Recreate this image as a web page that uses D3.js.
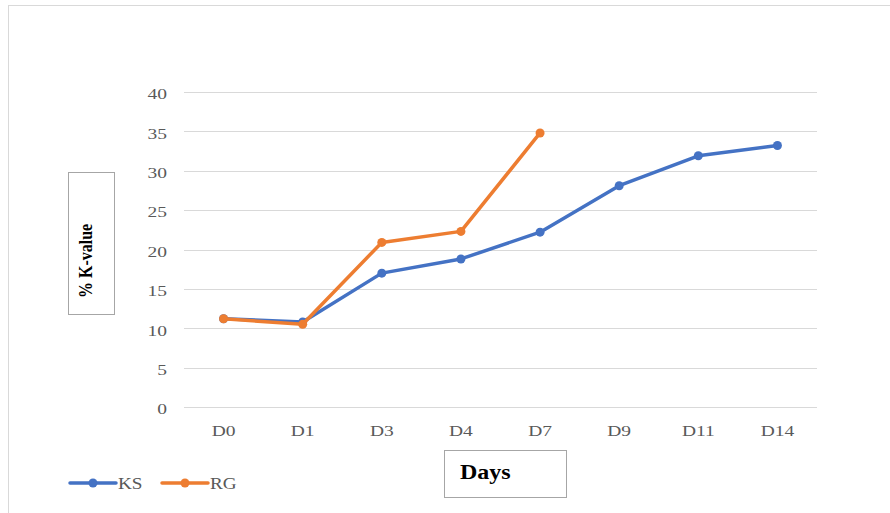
<!DOCTYPE html>
<html>
<head>
<meta charset="utf-8">
<script src="https://cdn.jsdelivr.net/npm/d3@7/dist/d3.min.js"></script>
<style>
  html, body { margin: 0; padding: 0; background: #fff; }
  svg { display: block; }
</style>
</head>
<body>
<svg id="chart" width="890" height="513"></svg>
<script>
// Days of measurement
const categories = ["D0", "D1", "D3", "D4", "D7", "D9", "D11", "D14"];
// % K-value per sample
const ksValues = [11.2, 10.8, 17.0, 18.8, 22.2, 28.1, 31.9, 33.2];
const rgValues = [11.2, 10.5, 20.9, 22.3, 34.8];
const yTicks = [0, 5, 10, 15, 20, 25, 30, 35, 40];
const seriesNames = ["KS", "RG"];
const seriesColors = ["#4472C4", "#ED7D31"];

const svg = d3.select("#chart");
const W = 890, H = 513;
const plot = { left: 184, right: 817, top: 92, bottom: 407 };
const wide = 1.3; // horizontal widening of the serif labels

// outer frame (continues past the right and bottom edges)
svg.append("rect")
  .attr("x", 8.5).attr("y", 5.5)
  .attr("width", W + 10).attr("height", H + 10)
  .attr("fill", "#fff").attr("stroke", "#d9d9d9").attr("stroke-width", 1);

const x = d3.scaleBand().domain(categories).range([plot.left, plot.right]);
const y = d3.scaleLinear().domain([0, 40]).range([plot.bottom, plot.top]);

// horizontal gridlines
svg.append("g")
  .selectAll("line").data(yTicks).join("line")
  .attr("x1", plot.left).attr("x2", plot.right)
  .attr("y1", d => Math.round(y(d)) + 0.5).attr("y2", d => Math.round(y(d)) + 0.5)
  .attr("stroke", "#d9d9d9").attr("stroke-width", 1);

const font = "'Liberation Serif', 'Times New Roman', serif";

// y axis labels
const yAxis = d3.axisLeft(y).tickValues(yTicks).tickSize(0).tickPadding(0);
const gy = svg.append("g").attr("transform", `translate(${plot.left},0)`).call(yAxis);
gy.select(".domain").remove();
gy.selectAll("text")
  .attr("x", 0).attr("dy", "0.45em")
  .attr("transform", `translate(-17,0) scale(${wide},1)`)
  .attr("font-family", font).attr("font-size", 15).attr("fill", "#595959");

// x axis labels
const xAxis = d3.axisBottom(x).tickSize(0).tickPadding(18);
const gx = svg.append("g").attr("transform", `translate(0,${plot.bottom})`).call(xAxis);
gx.select(".domain").remove();
gx.selectAll("text")
  .attr("transform", `scale(${wide},1)`)
  .attr("font-family", font).attr("font-size", 15).attr("fill", "#595959");

// series lines and markers
const cx = d => x(d) + x.bandwidth() / 2;
const series = [ksValues, rgValues];
series.forEach((vals, i) => {
  const pts = vals.map((v, j) => [cx(categories[j]), y(v)]);
  svg.append("path")
    .attr("d", d3.line()(pts))
    .attr("fill", "none")
    .attr("stroke", seriesColors[i])
    .attr("stroke-width", 3.5)
    .attr("stroke-linejoin", "round")
    .attr("stroke-linecap", "round");
  svg.append("g").selectAll("circle").data(pts).join("circle")
    .attr("cx", d => d[0]).attr("cy", d => d[1]).attr("r", 4.5)
    .attr("fill", seriesColors[i]);
});

// y axis title box
svg.append("rect")
  .attr("x", 68.5).attr("y", 172.5).attr("width", 46).attr("height", 142)
  .attr("fill", "#fff").attr("stroke", "#a6a6a6").attr("stroke-width", 1);
svg.append("text")
  .attr("transform", "translate(92,298) rotate(-90) scale(1,1.2)")
  .attr("font-family", font).attr("font-size", 16).attr("font-weight", "bold")
  .attr("fill", "#000")
  .text("% K-value");

// x axis title box
svg.append("rect")
  .attr("x", 444.5).attr("y", 450.5).attr("width", 122).attr("height", 47)
  .attr("fill", "#fff").attr("stroke", "#a6a6a6").attr("stroke-width", 1);
svg.append("text")
  .attr("transform", "translate(460,479) scale(1.2,1)")
  .attr("font-family", font).attr("font-size", 20).attr("font-weight", "bold")
  .attr("fill", "#000")
  .text("Days");

// legend
const legendX = [70, 162];
seriesNames.forEach((name, i) => {
  const g = svg.append("g").attr("transform", `translate(${legendX[i]},483)`);
  g.append("line").attr("x1", 0).attr("x2", 46).attr("y1", 0).attr("y2", 0)
    .attr("stroke", seriesColors[i]).attr("stroke-width", 3.5)
    .attr("stroke-linecap", "round");
  g.append("circle").attr("cx", 23).attr("cy", 0).attr("r", 4.5).attr("fill", seriesColors[i]);
  g.append("text").attr("transform", "translate(48,6) scale(1.2,1)")
    .attr("font-family", font).attr("font-size", 16).attr("fill", "#595959")
    .text(name);
});
</script>
</body>
</html>
